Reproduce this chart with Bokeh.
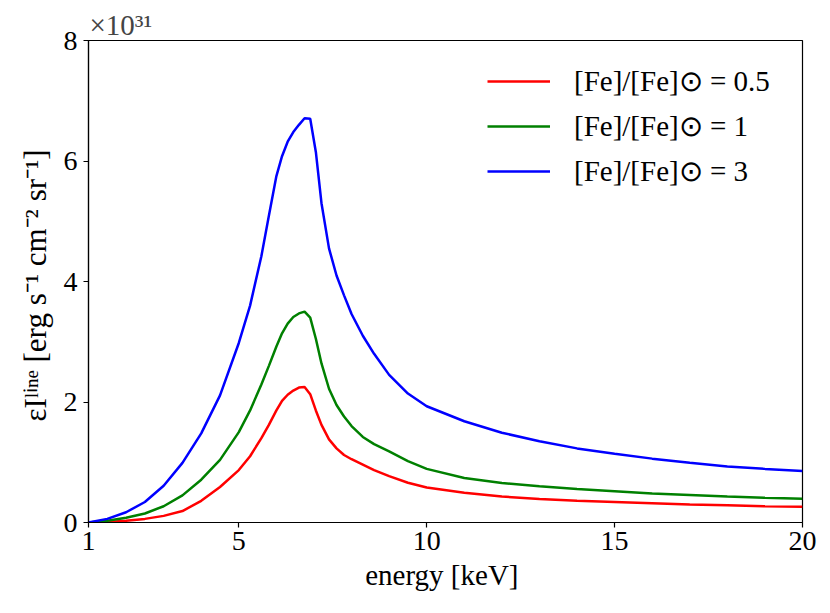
from bokeh.plotting import figure
from bokeh.models import FixedTicker, Legend, LegendItem, Range1d
from bokeh.embed import file_html
from bokeh.resources import INLINE

# energy grid [keV]
energy = [1.0, 1.5, 2.0, 2.5, 3.0, 3.5, 4.0, 4.5, 5.0, 5.3, 5.6, 5.8, 6.0, 6.15,
          6.3, 6.45, 6.6, 6.75, 6.9, 7.05, 7.2, 7.4, 7.6, 7.8, 8.0, 8.3, 8.6,
          9.0, 9.5, 10.0, 11.0, 12.0, 13.0, 14.0, 15.0, 16.0, 17.0, 18.0, 19.0, 20.0]

# eps * I_line in units of 1e31 erg s^-1 cm^-2 sr^-1
fe_05 = [0.00, 0.01, 0.03, 0.06, 0.11, 0.19, 0.36, 0.59, 0.87, 1.10, 1.40, 1.62,
         1.86, 2.02, 2.12, 2.19, 2.24, 2.25, 2.13, 1.86, 1.62, 1.38, 1.23, 1.12,
         1.05, 0.96, 0.87, 0.77, 0.66, 0.58, 0.495, 0.43, 0.39, 0.36, 0.34, 0.32,
         0.30, 0.285, 0.27, 0.26]
fe_1 = [0.00, 0.03, 0.08, 0.15, 0.27, 0.45, 0.71, 1.04, 1.50, 1.86, 2.29, 2.60,
        2.92, 3.14, 3.30, 3.41, 3.47, 3.50, 3.40, 3.05, 2.64, 2.22, 1.95, 1.76,
        1.60, 1.42, 1.30, 1.18, 1.02, 0.89, 0.74, 0.655, 0.60, 0.555, 0.52, 0.48,
        0.455, 0.43, 0.41, 0.395]
fe_3 = [0.00, 0.06, 0.17, 0.34, 0.61, 0.99, 1.48, 2.11, 2.98, 3.60, 4.42, 5.09,
        5.75, 6.08, 6.32, 6.48, 6.60, 6.71, 6.70, 6.15, 5.30, 4.55, 4.10, 3.77,
        3.46, 3.10, 2.80, 2.45, 2.14, 1.93, 1.68, 1.49, 1.35, 1.23, 1.14, 1.06,
        0.99, 0.93, 0.89, 0.855]

series = [fe_05, fe_1, fe_3]
labels = ["[Fe]/[Fe]\u2299 = 0.5", "[Fe]/[Fe]\u2299 = 1", "[Fe]/[Fe]\u2299 = 3"]
colors = ["#ff0000", "#008000", "#0000ff"]
x_ticks = [1, 5, 10, 15, 20]
y_ticks = [0, 2, 4, 6, 8]

FONT = "Liberation Serif"

p = figure(width=830, height=613, output_backend="svg", toolbar_location=None,
           x_range=Range1d(1, 20), y_range=Range1d(0, 8),
           min_border_left=88, min_border_right=28, min_border_top=40,
           min_border_bottom=91)

items = []
for ys, lab, col in zip(series, labels, colors):
    r = p.line(energy, ys, line_color=col, line_width=2.5)
    items.append(LegendItem(label=lab, renderers=[r]))

p.xgrid.visible = False
p.ygrid.visible = False
p.outline_line_color = "black"
p.outline_line_width = 1.2

for ax, ticks in ((p.xaxis, x_ticks), (p.yaxis, y_ticks)):
    ax.ticker = FixedTicker(ticks=ticks)
    ax.minor_tick_line_color = None
    ax.major_tick_out = 5
    ax.major_tick_in = 0
    ax.axis_line_color = "black"
    ax.axis_line_width = 1.2
    ax.major_tick_line_color = "black"
    ax.major_tick_line_width = 1.2
    ax.major_label_text_font = FONT
    ax.major_label_text_font_size = "28px"
    ax.major_label_text_color = "black"
    ax.axis_label_text_font = FONT
    ax.axis_label_text_font_size = "29px"
    ax.axis_label_text_font_style = "normal"
    ax.axis_label_text_color = "black"

p.xaxis.axis_label = "energy  [keV]"
p.xaxis.axis_label_standoff = 6
p.xaxis.major_label_standoff = 4
p.yaxis.axis_label = "\u03b5I\u02e1\u2071\u207f\u1d49  [erg s\u207b\u00b9 cm\u207b\u00b2 sr\u207b\u00b9]"
p.yaxis.axis_label_text_font_size = "31px"
p.yaxis.axis_label_standoff = 8
p.yaxis.major_label_standoff = 6

p.title.text = "\u00d710\u00b3\u00b9"
p.title.text_font = FONT
p.title.text_font_size = "29px"
p.title.text_font_style = "normal"
p.title.align = "left"
p.title.offset = 1
p.title.standoff = 0

legend = Legend(items=items, location=(399, 331), border_line_alpha=0,
                background_fill_alpha=0, padding=0, margin=0,
                glyph_width=63, glyph_height=40, label_height=40, spacing=5,
                label_standoff=24, label_text_font=FONT,
                label_text_font_size="29px", label_text_color="black")
p.add_layout(legend, "center")

open("out.html", "w").write(file_html(p, INLINE))
